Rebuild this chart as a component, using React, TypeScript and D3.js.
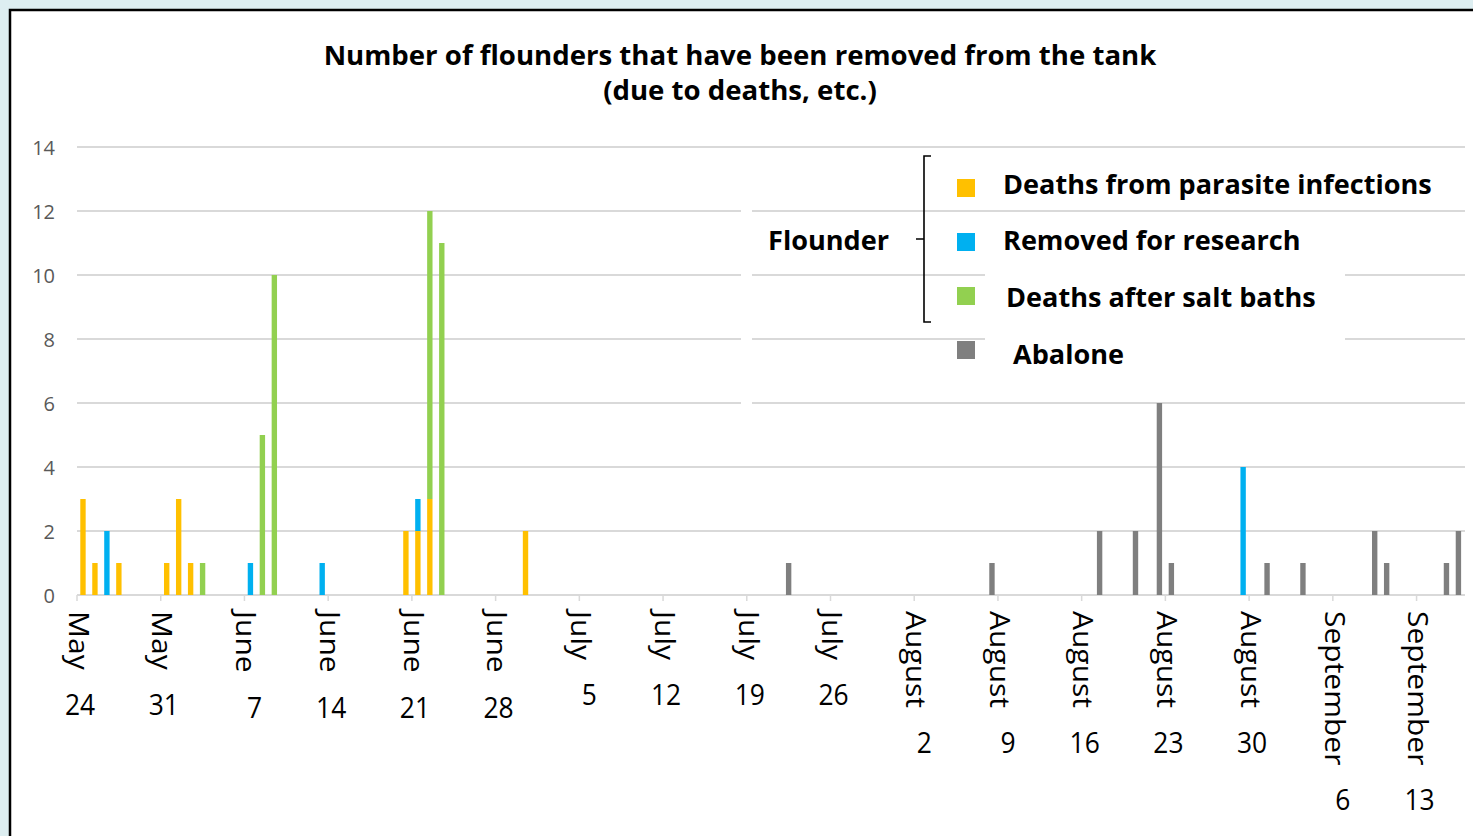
import React, { useEffect, useRef } from "react";
import * as d3 from "d3";

// ---------- data ----------
const startDate = new Date(2021, 4, 24); // May 24
const dayCount = 116;
const monthNames = ["January", "February", "March", "April", "May", "June", "July", "August", "September", "October", "November", "December"];

const parasiteDeaths: [string, number][] = [
  ["5/24", 3], ["5/25", 1], ["5/27", 1], ["5/31", 1], ["6/1", 3], ["6/2", 1],
  ["6/20", 2], ["6/21", 2], ["6/22", 3], ["6/30", 2],
];
const researchRemovals: [string, number][] = [
  ["5/26", 2], ["6/7", 1], ["6/13", 1], ["6/21", 1], ["8/29", 4],
];
const saltBathDeaths: [string, number][] = [
  ["6/3", 1], ["6/8", 5], ["6/9", 10], ["6/22", 9], ["6/23", 11],
];
const abaloneRemovals: [string, number][] = [
  ["7/22", 1], ["8/8", 1], ["8/17", 2], ["8/20", 2], ["8/22", 6], ["8/23", 1],
  ["8/31", 1], ["9/3", 1], ["9/9", 2], ["9/10", 1], ["9/15", 1], ["9/16", 2],
];

const seriesKeys = ["parasite", "research", "salt", "abalone"];
const seriesNames = ["Deaths from parasite infections", "Removed for research", "Deaths after salt baths", "Abalone"];
const seriesColors = ["#FFC000", "#00B0F0", "#92D050", "#7F7F7F"];
const yTicks = [0, 2, 4, 6, 8, 10, 12, 14];
const titleLines = ["Number of flounders that have been removed from the tank", "(due to deaths, etc.)"];
const groupLabel = "Flounder";

const FONT = "'Open Sans', 'Noto Sans', sans-serif";

function dayIndex(md: string): number {
  const [m, d] = md.split("/").map(Number);
  const dt = new Date(2021, m - 1, d);
  return Math.round((dt.getTime() - startDate.getTime()) / 86400000);
}

function draw(svgEl: SVGSVGElement) {
  const svg = d3.select(svgEl);
  svg.selectAll("*").remove();
  const W = 1473, H = 836;

  svg.append("rect").attr("width", W).attr("height", H).attr("fill", "#DDEEF1");
  svg.append("rect").attr("x", 10).attr("y", 10).attr("width", W + 20).attr("height", H + 20)
    .attr("fill", "#FFFFFF").attr("stroke", "#000").attr("stroke-width", 2.5);

  // table
  const days = d3.range(dayCount);
  const rows = days.map((i) => ({ i, parasite: 0, research: 0, salt: 0, abalone: 0 } as any));
  const fill = (arr: [string, number][], key: string) => arr.forEach(([d, v]) => { rows[dayIndex(d)][key] = v; });
  fill(parasiteDeaths, "parasite");
  fill(researchRemovals, "research");
  fill(saltBathDeaths, "salt");
  fill(abaloneRemovals, "abalone");

  const x = d3.scaleBand<number>().domain(days).range([77, 1464.4]).paddingInner(0.55).paddingOuter(0.275);
  const y = d3.scaleLinear().domain([0, 14]).range([595, 147]);
  const gap = (x.step() - x.bandwidth()) / 2;
  const boundary = (i: number) => (x(i) as number) - gap;

  // gridlines
  const grid = svg.append("g");
  grid.selectAll("line").data(yTicks).join("line")
    .attr("x1", 77).attr("x2", 1465)
    .attr("y1", (d) => y(d)).attr("y2", (d) => y(d))
    .attr("stroke", "#D9D9D9").attr("stroke-width", 2);

  // y tick labels
  svg.append("g").selectAll("text").data(yTicks).join("text")
    .attr("x", 55).attr("y", (d) => y(d))
    .attr("text-anchor", "end").attr("dominant-baseline", "central")
    .attr("font-family", FONT).attr("font-size", 20).attr("fill", "#595959")
    .text((d) => String(d));

  // x tick marks (week boundaries)
  const weekStarts = days.filter((i) => i % 7 === 0);
  svg.append("g").selectAll("line").data(weekStarts).join("line")
    .attr("x1", (d) => boundary(d)).attr("x2", (d) => boundary(d))
    .attr("y1", 595).attr("y2", 601)
    .attr("stroke", "#D9D9D9").attr("stroke-width", 1.5);

  // bars
  const stacked = d3.stack<any>().keys(seriesKeys)(rows);
  const barG = svg.append("g");
  stacked.forEach((layer, li) => {
    barG.append("g").attr("fill", seriesColors[li]).selectAll("rect")
      .data(layer.filter((d) => d[1] - d[0] > 0)).join("rect")
      .attr("x", (d) => x(d.data.i) as number)
      .attr("width", x.bandwidth())
      .attr("y", (d) => y(d[1]))
      .attr("height", (d) => y(d[0]) - y(d[1]));
  });

  // x labels
  const labG = svg.append("g");
  weekStarts.forEach((i) => {
    const dt = new Date(startDate.getTime() + i * 86400000);
    const month = monthNames[dt.getMonth()];
    const day = dt.getDate();
    const cx = boundary(i) + 2;
    const mt = labG.append("text")
      .attr("transform", `translate(${cx},611) scale(0.88,1) rotate(90)`)
      .attr("dominant-baseline", "central")
      .attr("font-family", FONT).attr("font-size", 30).attr("fill", "#000")
      .text(month);
    const len = (mt.node() as SVGTextElement).getComputedTextLength();
    const dx = day < 10 ? 10 : 3;
    labG.append("text")
      .attr("transform", `translate(${boundary(i) + dx},${611 + len + 45}) scale(0.88,1)`)
      .attr("text-anchor", "middle")
      .attr("font-family", FONT).attr("font-size", 30).attr("fill", "#000")
      .text(String(day));
  });

  // title (fit to width)
  const t1 = svg.append("text").attr("x", 740).attr("y", 65).attr("text-anchor", "middle")
    .attr("font-family", FONT).attr("font-weight", "bold").attr("font-size", 26).text(titleLines[0]);
  const w1 = (t1.node() as SVGTextElement).getComputedTextLength();
  const tSize = 26 * 833 / w1;
  t1.attr("font-size", tSize);
  svg.append("text").attr("x", 740).attr("y", 100).attr("text-anchor", "middle")
    .attr("font-family", FONT).attr("font-weight", "bold").attr("font-size", tSize).text(titleLines[1]);

  // legend backdrop gaps
  svg.append("rect").attr("x", 985).attr("y", 262).attr("width", 360).attr("height", 90).attr("fill", "#fff");
  svg.append("rect").attr("x", 741).attr("y", 205).attr("width", 11).attr("height", 205).attr("fill", "#fff");

  const leg = svg.append("g");
  const itemY = [188, 242, 296, 350];
  const textY = [187, 243, 300, 357];
  const textX = [1003, 1003, 1006, 1013];
  const probe = leg.append("text").attr("font-family", FONT).attr("font-weight", "bold").attr("font-size", 27).text(seriesNames[0]);
  const pw = (probe.node() as SVGTextElement).getComputedTextLength();
  probe.remove();
  const lSize = 27 * 429 / pw;
  seriesNames.forEach((name, k) => {
    leg.append("rect").attr("x", 957).attr("y", itemY[k] - 9).attr("width", 18).attr("height", 18)
      .attr("fill", seriesColors[k]);
    leg.append("text").attr("x", textX[k]).attr("y", textY[k])
      .attr("font-family", FONT).attr("font-weight", "bold").attr("font-size", lSize).attr("fill", "#000")
      .attr("dominant-baseline", "middle")
      .text(name);
  });
  const fl = leg.append("text").attr("x", 768).attr("y", 243)
    .attr("font-family", FONT).attr("font-weight", "bold").attr("font-size", lSize)
    .attr("dominant-baseline", "middle").text(groupLabel);
  const fw = (fl.node() as SVGTextElement).getComputedTextLength();
  fl.attr("font-size", lSize * 121 / fw);

  leg.append("path").attr("d", "M931,156 H924 V322 H931 M924,239 H916")
    .attr("fill", "none").attr("stroke", "#000").attr("stroke-width", 1.6);
}

export default function App() {
  const ref = useRef<SVGSVGElement>(null);
  useEffect(() => {
    if (!ref.current) return;
    draw(ref.current);
    const f: any = (document as any).fonts;
    if (f && f.ready) f.ready.then(() => ref.current && draw(ref.current));
  }, []);
  return (
    <svg ref={ref} width={1473} height={836}
      style={{ position: "absolute", left: 0, top: 0, display: "block" }} />
  );
}
